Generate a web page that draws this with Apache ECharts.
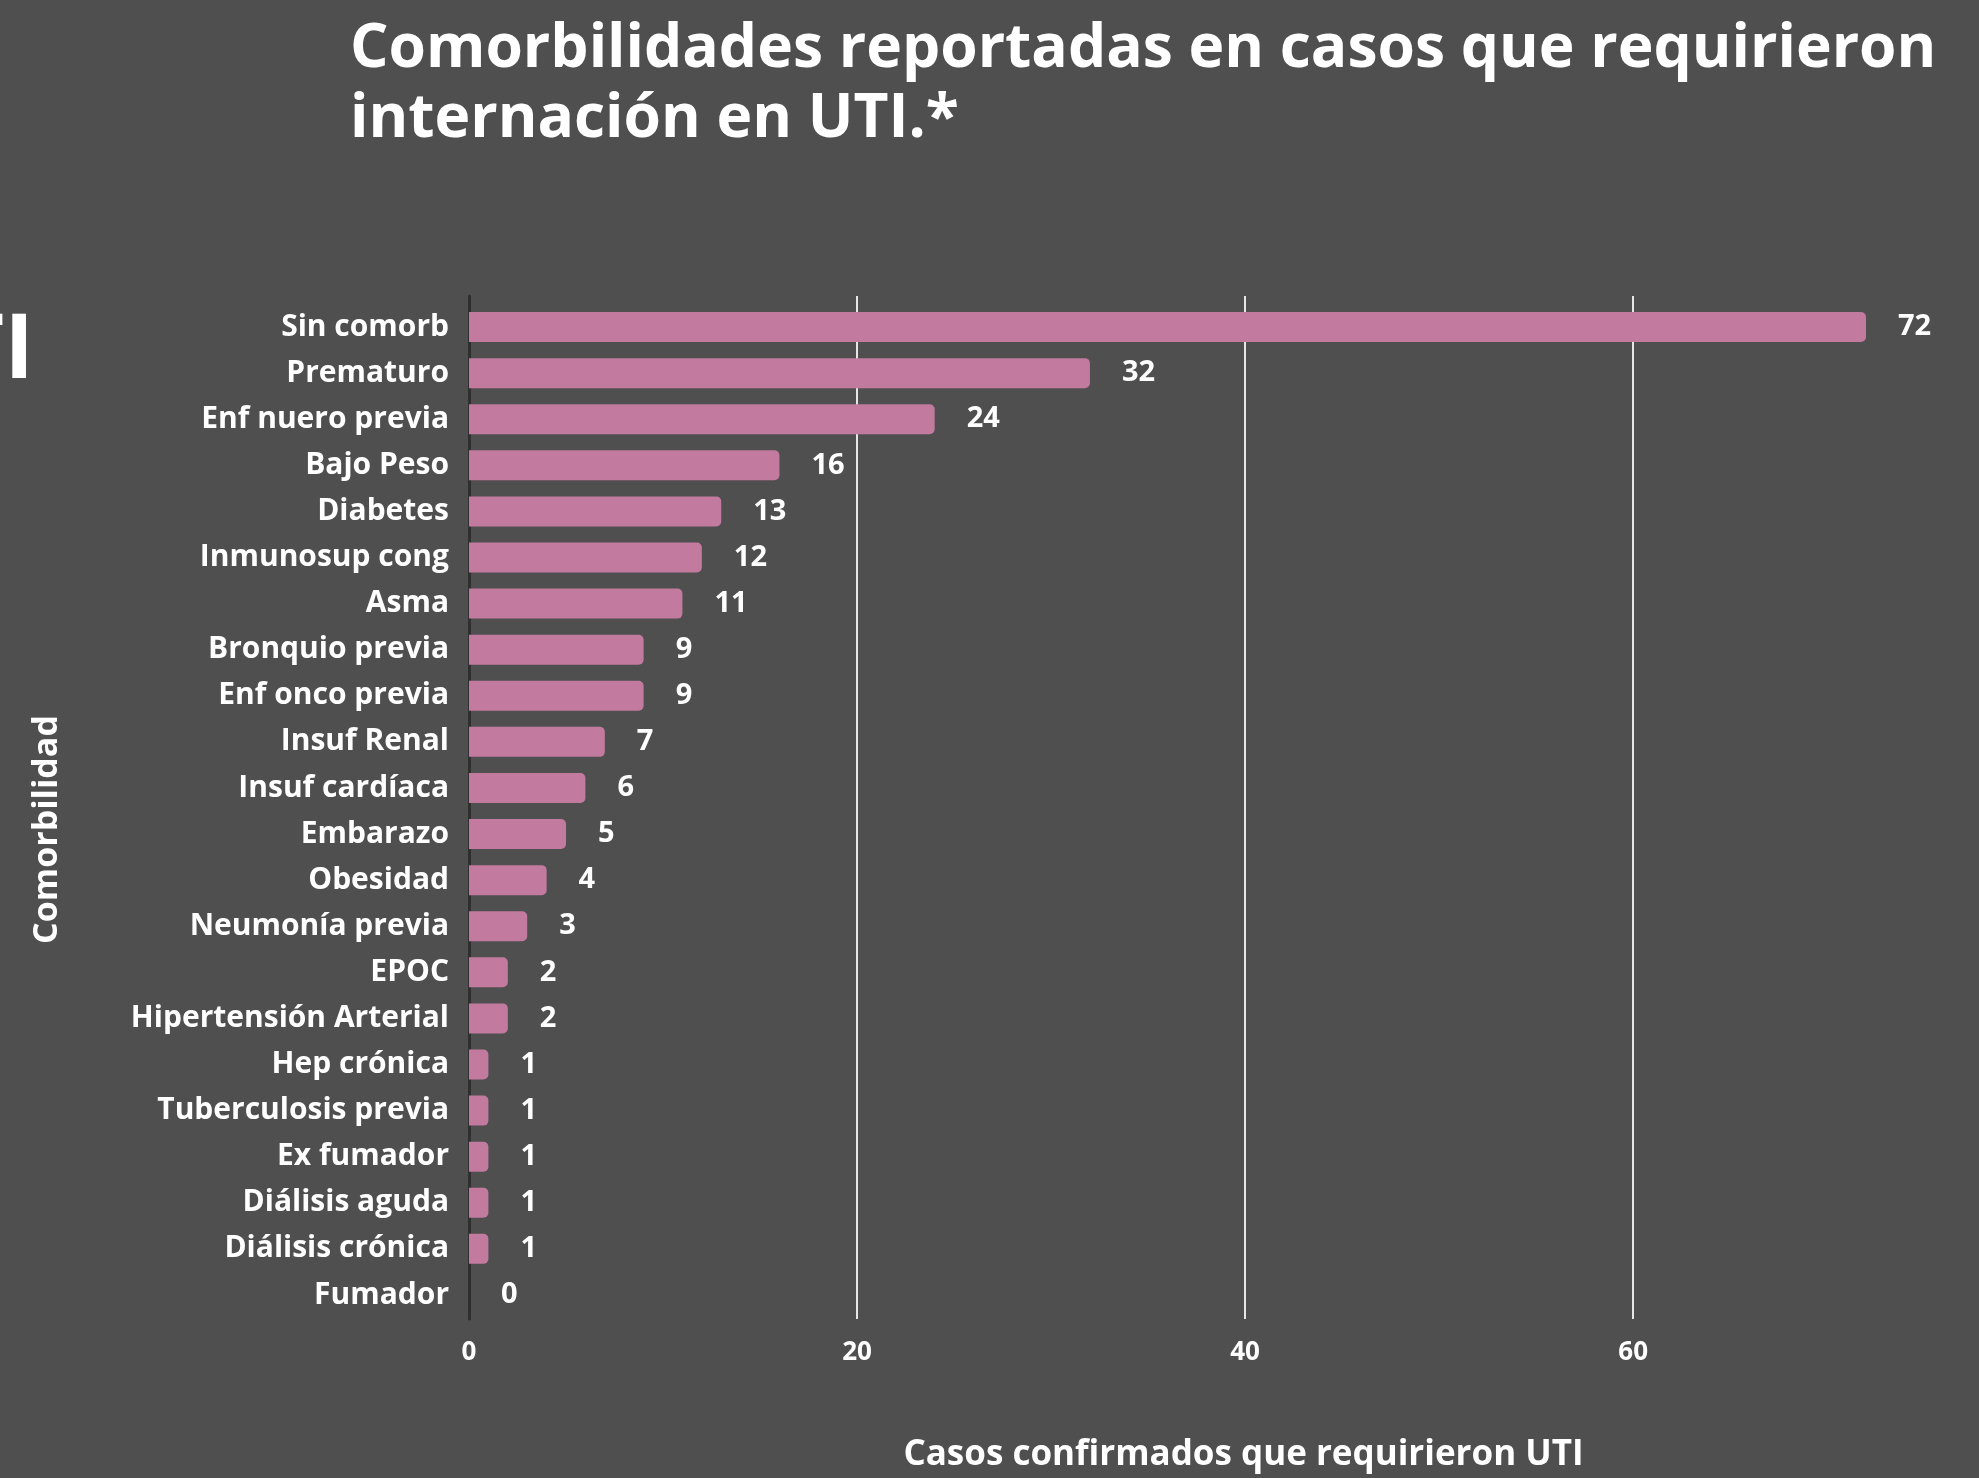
<!DOCTYPE html>
<html>
<head>
<meta charset="utf-8">
<script src="https://cdn.jsdelivr.net/npm/echarts@6/dist/echarts.min.js"></script>
<style>
html,body{margin:0;padding:0;background:#4f4f4f;}
#chart{width:1979px;height:1478px;}
</style>
</head>
<body>
<div id="chart"></div>
<script>
const categories = ["Sin comorb","Prematuro","Enf nuero previa","Bajo Peso","Diabetes","Inmunosup cong","Asma","Bronquio previa","Enf onco previa","Insuf Renal","Insuf cardíaca","Embarazo","Obesidad","Neumonía previa","EPOC","Hipertensión Arterial","Hep crónica","Tuberculosis previa","Ex fumador","Diálisis aguda","Diálisis crónica","Fumador"];
const values = [72,32,24,16,13,12,11,9,9,7,6,5,4,3,2,2,1,1,1,1,1,0];
const xTicks = [0,20,40,60];
const titleText = "Comorbilidades reportadas en casos que requirieron\ninternación en UTI.*";
const xName = "Casos confirmados que requirieron UTI";
const yName = "Comorbilidad";
const fragmentText = "TI";

const FONT = "'Open Sans', 'Noto Sans', sans-serif";
const chart = echarts.init(document.getElementById('chart'), null, {renderer:'canvas'});
chart.setOption({
  backgroundColor: '#4f4f4f',
  animation: false,
  title: {
    text: titleText,
    left: 345, top: 10,
    textStyle: {color:'#ffffff', fontFamily: FONT, fontWeight:'bold', fontSize:60.5, lineHeight:70}
  },
  graphic: [{
    type:'text', right: 1979-34, top: 307,
    style:{text: fragmentText, fill:'#ffffff', font: "bold 90px 'Open Sans'", textAlign:'right'}
  }],
  grid: [
    {left:469, right:113, top:296, bottom:151},
    {left:469, right:113, top:304, height:1014}
  ],
  xAxis: [{
    gridIndex:0, type:'value', min:0, max:72, interval:20,
    axisLine:{show:false}, axisTick:{show:false},
    splitLine:{show:true, showMaxLine:false, lineStyle:{color:'#e6e6e6', width:2}},
    axisLabel:{color:'#ffffff', fontFamily:FONT, fontWeight:'bold', fontSize:26, margin:21, showMaxLabel:false,
      formatter: v => xTicks.includes(v) ? String(v) : ''},
    name: xName, nameLocation:'middle', nameGap:119,
    nameTextStyle:{color:'#ffffff', fontFamily:FONT, fontWeight:'bold', fontSize:35, padding:[0,0,0,152]}
  },{
    gridIndex:1, type:'value', min:0, max:72, show:false
  }],
  yAxis: [{
    gridIndex:0, type:'value', min:0, max:1,
    axisLine:{show:true, lineStyle:{color:'#2f2f2f', width:3}},
    axisTick:{show:false}, axisLabel:{show:false}, splitLine:{show:false},
    name: yName, nameLocation:'middle', nameGap:405, nameRotate:90,
    nameTextStyle:{color:'#ffffff', fontFamily:FONT, fontWeight:'bold', fontSize:34, padding:[0,44,0,0]}
  },{
    gridIndex:1, type:'category', data:categories, inverse:true,
    axisLine:{show:false}, axisTick:{show:false}, splitLine:{show:false},
    axisLabel:{color:'#ffffff', fontFamily:FONT, fontWeight:'bold', fontSize:30, margin:20}
  }],
  series: [{
    type:'bar', xAxisIndex:1, yAxisIndex:1, data: values, barWidth:30,
    itemStyle:{color:'#c27a9f', borderRadius:[0,5,5,0]},
    label:{show:true, position:'right', distance:32, color:'#ffffff', fontFamily:FONT, fontWeight:'bold', fontSize:29}
  }]
});
</script>
</body>
</html>
